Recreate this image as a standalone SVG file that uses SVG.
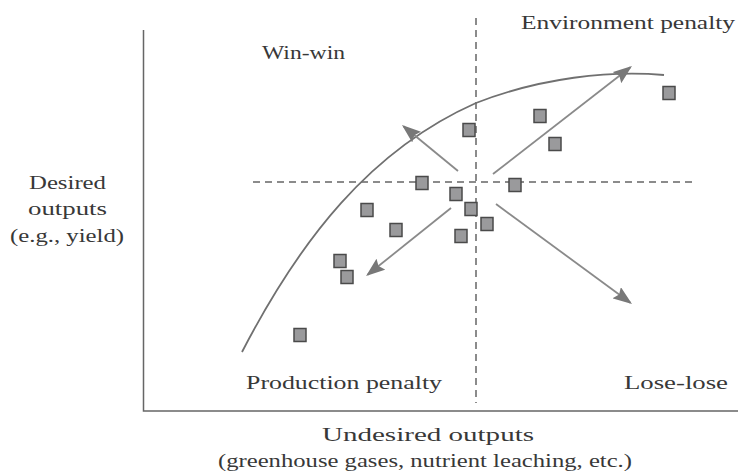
<svg xmlns="http://www.w3.org/2000/svg" width="738" height="473" viewBox="0 0 738 473">
<style>
  .lbl { font-family: "Liberation Serif", "Times New Roman", serif; font-size: 18px; fill: #383838; }
  .axis { stroke: #666; stroke-width: 1.5; fill: none; }
  .dash { stroke: #666; stroke-width: 1.5; stroke-dasharray: 7 5; fill: none; }
  .curve { stroke: #707070; stroke-width: 1.8; fill: none; }
  .arr { stroke: #8a8a8a; stroke-width: 1.8; fill: none; marker-end: url(#ah); }
  .pt { fill: #9a9a9c; stroke: #4a4a4a; stroke-width: 1.5; }
</style>
<defs>
  <marker id="ah" viewBox="0 0 19 14" refX="17" refY="7" markerWidth="19" markerHeight="14" markerUnits="userSpaceOnUse" orient="auto">
    <path d="M0,0 L19,7 L0,14 L3,7 Z" fill="#787878"/>
  </marker>
</defs>
<rect width="738" height="473" fill="#fff"/>
<g id="axes">
  <path class="axis" d="M143.5,30 V411 H738"/>
  <path class="dash" d="M476,18 V403"/>
  <path class="dash" d="M253,182 H692"/>
</g>
<g id="frontier">
  <path class="curve" d="M242,352 C300,240 370,150 476,103 C540,78 610,70 664,75"/>
</g>
<g id="connectors">
  <line class="arr" x1="458" y1="171" x2="403.5" y2="126.3"/>
  <line class="arr" x1="493" y1="174" x2="630.4" y2="67.2"/>
  <line class="arr" x1="451" y1="208" x2="367.6" y2="274.8"/>
  <line class="arr" x1="496" y1="204" x2="630.4" y2="302.8"/>
</g>
<g id="points">
  <rect class="pt" x="463" y="123.5" width="12" height="13"/>
  <rect class="pt" x="416" y="176.5" width="12" height="13"/>
  <rect class="pt" x="450" y="187.5" width="12" height="13"/>
  <rect class="pt" x="465" y="202.5" width="12" height="13"/>
  <rect class="pt" x="361" y="203.5" width="12" height="13"/>
  <rect class="pt" x="663" y="86.5" width="12" height="13"/>
  <rect class="pt" x="534" y="109.5" width="12" height="13"/>
  <rect class="pt" x="549" y="137.5" width="12" height="13"/>
  <rect class="pt" x="509" y="178.5" width="12" height="13"/>
  <rect class="pt" x="390" y="223.5" width="12" height="13"/>
  <rect class="pt" x="455" y="229.5" width="12" height="13"/>
  <rect class="pt" x="481" y="217.5" width="12" height="13"/>
  <rect class="pt" x="334" y="254.5" width="12" height="13"/>
  <rect class="pt" x="341" y="270.5" width="12" height="13"/>
  <rect class="pt" x="294" y="328.5" width="12" height="13"/>
</g>
<g id="labels">
  <text class="lbl" x="262" y="59" textLength="83" lengthAdjust="spacingAndGlyphs">Win-win</text>
  <text class="lbl" x="521" y="29" textLength="214" lengthAdjust="spacingAndGlyphs">Environment penalty</text>
  <text class="lbl" x="246" y="389" textLength="196" lengthAdjust="spacingAndGlyphs">Production penalty</text>
  <text class="lbl" x="624" y="389" textLength="104" lengthAdjust="spacingAndGlyphs">Lose-lose</text>
  <text class="lbl" x="29" y="189" textLength="77" lengthAdjust="spacingAndGlyphs">Desired</text>
  <text class="lbl" x="28" y="215" textLength="79" lengthAdjust="spacingAndGlyphs">outputs</text>
  <text class="lbl" x="10" y="242" textLength="114" lengthAdjust="spacingAndGlyphs">(e.g., yield)</text>
  <text class="lbl" x="322" y="441" textLength="212" lengthAdjust="spacingAndGlyphs">Undesired outputs</text>
  <text class="lbl" x="218" y="467" textLength="414" lengthAdjust="spacingAndGlyphs">(greenhouse gases, nutrient leaching, etc.)</text>
</g>
</svg>
